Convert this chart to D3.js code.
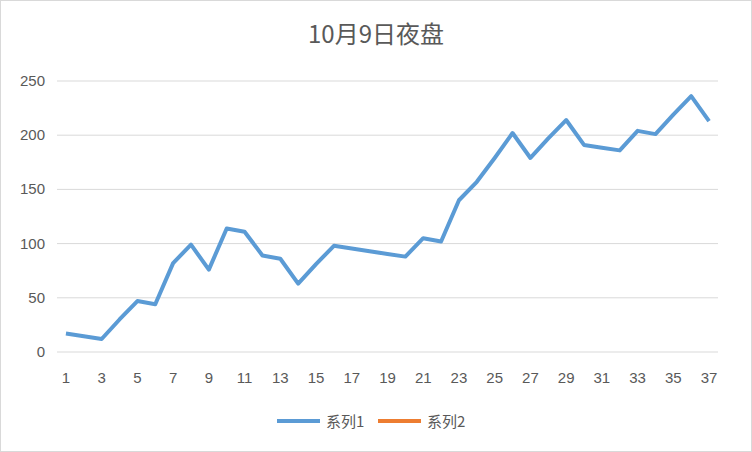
<!DOCTYPE html>
<html><head><meta charset="utf-8">
<script src="https://cdn.jsdelivr.net/npm/d3@7"></script>
<style>body{margin:0;background:#fff}</style>
</head><body>
<div id="chart"></div>
<script>
// chart data
var categories = d3.range(1, 38);
var series1 = [17,14.5,12,30,47,44,82,99,76,114,111,89,86,63,81,98,95.5,93,90.5,88,105,102,140,157,179,202,179,197,214,191,188.5,186,204,201,219,236,213];
var yTicks = [0,50,100,150,200,250];
var legendNames = ["系列1","系列2"];
var colors = ["#5b9bd5","#ed7d31"];

var svg = d3.select("#chart").append("svg").attr("width",752).attr("height",452);
var font = "'Noto Sans CJK SC', 'Liberation Sans', sans-serif";

svg.append("rect").attr("x",0.5).attr("y",0.5).attr("width",751).attr("height",451)
  .attr("fill","#fff").attr("stroke","#d9d9d9");

svg.append("text").attr("x",376).attr("y",43).attr("text-anchor","middle")
  .attr("font-family",font).attr("font-size",24).attr("fill","#595959").text("10月9日夜盘");

var x = d3.scalePoint().domain(categories).range([57,718]).padding(0.5);
var y = d3.scaleLinear().domain([0,250]).range([352,81]);

// gridlines
svg.selectAll(".grid").data(yTicks).enter().append("line")
  .attr("x1",57).attr("x2",718).attr("y1",function(d){return y(d);}).attr("y2",function(d){return y(d);})
  .attr("stroke","#d9d9d9").attr("stroke-width",1);

svg.selectAll(".ylab").data(yTicks).enter().append("text")
  .attr("x",45).attr("y",function(d){return y(d)+5;}).attr("text-anchor","end")
  .attr("font-family","'Liberation Sans', sans-serif").attr("font-size",15).attr("fill","#595959")
  .text(function(d){return d;});

svg.selectAll(".xlab").data(categories.filter(function(d){return d%2==1;})).enter().append("text")
  .attr("x",function(d){return x(d);}).attr("y",383).attr("text-anchor","middle")
  .attr("font-family","'Liberation Sans', sans-serif").attr("font-size",15).attr("fill","#595959")
  .text(function(d){return d;});

var line = d3.line().x(function(d,i){return x(categories[i]);}).y(function(d){return y(d);});
svg.append("path").datum(series1).attr("d",line).attr("fill","none")
  .attr("stroke",colors[0]).attr("stroke-width",4).attr("stroke-linejoin","round");

// legend
var lg = svg.selectAll(".lg").data(legendNames).enter().append("g")
  .attr("transform",function(d,i){return "translate("+(277+i*101)+",421)";});
lg.append("line").attr("x1",0).attr("x2",43).attr("stroke",function(d,i){return colors[i];}).attr("stroke-width",4);
lg.append("text").attr("x",49).attr("y",6).attr("font-family",font).attr("font-size",15)
  .attr("fill","#595959").text(function(d){return d;});
</script>
</body></html>
